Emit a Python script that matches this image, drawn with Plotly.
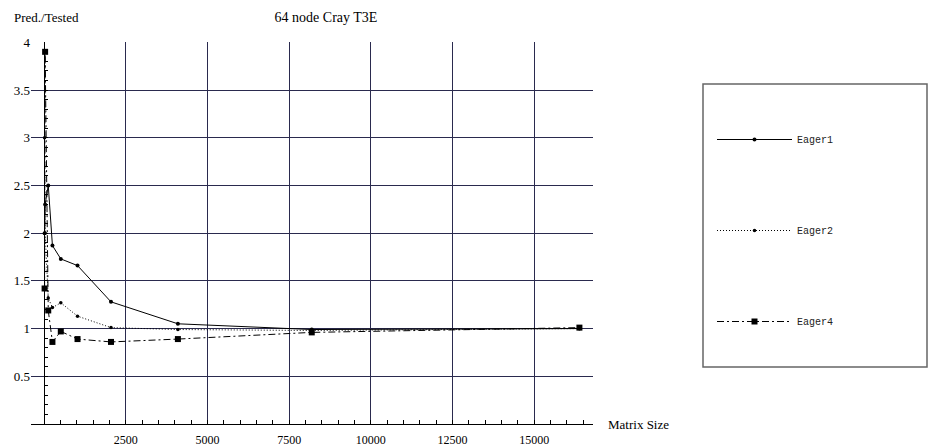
import plotly.graph_objects as go

# ---- data ----
matrix_size = [16, 32, 128, 256, 512, 1024, 2048, 4096, 8192, 16384]
eager1 = [2.0, 2.3, 2.5, 1.87, 1.73, 1.66, 1.28, 1.05, 0.99, 1.0]
eager2 = [3.0, 2.0, 1.32, 1.22, 1.27, 1.13, 1.01, 0.99, 0.98, 1.0]
eager4 = [1.42, 3.9, 1.19, 0.86, 0.97, 0.89, 0.86, 0.89, 0.96, 1.01]

x_tickvals = [2500, 5000, 7500, 10000, 12500, 15000]
x_ticktext = ["2500", "5000", "7500", "10000", "12500", "15000"]
y_tickvals = [0.5, 1, 1.5, 2, 2.5, 3, 3.5, 4]
y_ticktext = ["0.5", "1", "1.5", "2", "2.5", "3", "3.5", "4"]

W, H = 929, 448
ML, MR, MT, MB = 31, 336, 42, 24
PW, PH = W - ML - MR, H - MT - MB
XR = [-400, 16800]
YR = [0, 4.003]

def px2paper_x(px):
    return (px - ML) / PW

def px2paper_y(py):
    return (H - MB - py) / PH

serif = "Liberation Serif"
grid_col = "#2a2a4e"

fig = go.Figure()
fig.add_trace(go.Scatter(
    x=matrix_size, y=eager1, name="Eager1", mode="lines+markers",
    line=dict(color="black", width=1), marker=dict(symbol="circle", size=4, color="black"),
    legendgroup="g1"))
fig.add_trace(go.Scatter(
    x=matrix_size, y=eager2, name="Eager2", mode="lines+markers",
    line=dict(color="black", width=1, dash="1px,2px"), marker=dict(symbol="circle", size=3.5, color="black"),
    legendgroup="g2"))
fig.add_trace(go.Scatter(
    x=matrix_size, y=eager4, name="Eager4", mode="lines+markers",
    line=dict(color="black", width=1, dash="7px,3px,2px,3px"), marker=dict(symbol="square", size=6, color="black"),
    legendgroup="g4"))

fig.update_layout(
    width=W, height=H,
    margin=dict(l=ML, r=MR, t=MT, b=MB, pad=0, autoexpand=False),
    paper_bgcolor="white", plot_bgcolor="white",
    font=dict(family=serif, size=13, color="black"),
    title=dict(text="64 node Cray T3E", xref="container", yref="container",
               x=326 / W, y=1 - 17 / H, xanchor="center", yanchor="middle",
               font=dict(family=serif, size=14, color="black")),
    xaxis=dict(range=XR, tickvals=x_tickvals, ticktext=x_ticktext, automargin=False,
               showgrid=True, gridcolor=grid_col, gridwidth=1.3,
               zeroline=True, zerolinecolor="black", zerolinewidth=1.3,
               showline=True, linecolor="black", linewidth=1.3,
               ticks="outside", ticklen=4, tickcolor="rgba(255,255,255,0)",
               tickfont=dict(family=serif, size=12), fixedrange=True),
    xaxis2=dict(range=XR, overlaying="x", anchor="y", side="bottom", automargin=False,
                showgrid=False, zeroline=False, showline=False, showticklabels=False,
                tickmode="linear", tick0=0, dtick=500,
                ticks="inside", ticklen=4, tickcolor="black", fixedrange=True),
    yaxis=dict(range=YR, tickvals=y_tickvals, ticktext=y_ticktext, automargin=False,
               showgrid=True, gridcolor=grid_col, gridwidth=1.3,
               zeroline=False, showline=False, ticks="", ticklen=0,
               tickfont=dict(family=serif, size=13), fixedrange=True),
    yaxis2=dict(range=YR, overlaying="y", anchor="free", automargin=False,
                position=(0 - XR[0]) / (XR[1] - XR[0]), side="left",
                showgrid=False, zeroline=False, showline=False, showticklabels=False,
                tickmode="linear", tick0=0, dtick=0.1,
                ticks="inside", ticklen=3, tickcolor="black",
                fixedrange=True),
    legend=dict(x=px2paper_x(712), y=px2paper_y(125), xanchor="left", yanchor="top",
                bgcolor="rgba(0,0,0,0)", borderwidth=0,
                font=dict(family="Liberation Mono", size=10, color="#222"),
                traceorder="grouped", tracegroupgap=72, itemwidth=75),
    showlegend=True,
)

# invisible anchor traces for the overlay tick axes
fig.add_trace(go.Scatter(x=[XR[0]], y=[YR[0]], yaxis="y2", mode="markers",
                         marker=dict(opacity=0), showlegend=False, hoverinfo="skip"))
fig.add_trace(go.Scatter(x=[XR[0]], y=[YR[0]], xaxis="x2", mode="markers",
                         marker=dict(opacity=0), showlegend=False, hoverinfo="skip"))

fig.add_shape(type="rect", xref="paper", yref="paper",
              x0=px2paper_x(703), x1=px2paper_x(927), y0=px2paper_y(367), y1=px2paper_y(84),
              line=dict(color="#666666", width=1.5), fillcolor="rgba(0,0,0,0)", layer="below")

fig.add_annotation(text="Pred./Tested", xref="paper", yref="paper",
                   x=px2paper_x(12), y=px2paper_y(18), xanchor="left", yanchor="middle",
                   showarrow=False, font=dict(family=serif, size=13))
fig.add_annotation(text="Matrix Size", xref="paper", yref="paper",
                   x=px2paper_x(606), y=px2paper_y(424), xanchor="left", yanchor="middle",
                   showarrow=False, font=dict(family=serif, size=13))

fig.write_html("out.html")
